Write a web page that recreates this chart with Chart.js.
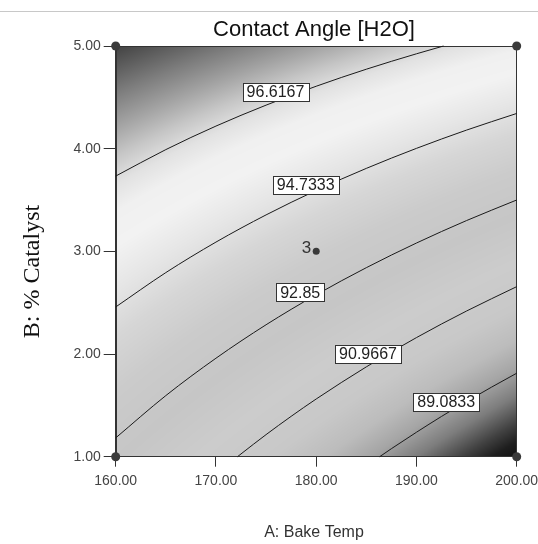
<!DOCTYPE html>
<html>
<head>
<meta charset="utf-8">
<script src="https://cdn.jsdelivr.net/npm/chart.js@4.4.1/dist/chart.umd.min.js"></script>
<style>
  html,body{margin:0;padding:0;background:#fff;}
  #c{display:block;}
</style>
</head>
<body>
<canvas id="c" width="538" height="544"></canvas>
<script>
// ---------------- data ----------------
const chartTitle = 'Contact Angle [H2O]';
const xTitle = 'A: Bake Temp';
const yTitle = 'B: % Catalyst';
const tickX = [160, 170, 180, 190, 200];
const tickY = [1, 2, 3, 4, 5];

// response surface estimated on a coarse grid (rows = % Catalyst, cols = Bake Temp)
const gridX = [160, 170, 180, 190, 200];
const gridY = [1, 2, 3, 4, 5];
const gridZ = [
  [92.579, 91.252, 89.924, 88.597, 87.269],
  [94.057, 92.918, 91.779, 90.640, 89.502],
  [95.534, 94.584, 93.634, 92.684, 91.734],
  [97.012, 96.250, 95.489, 94.728, 93.967],
  [98.489, 97.917, 97.344, 96.772, 96.199]
];

// contour levels and the lines
const levelText = ['89.0833', '90.9667', '92.85', '94.7333', '96.6167'];
const contour89 = [{x:186.33,y:1},{x:187.5,y:1.078},{x:190,y:1.238},{x:192.5,y:1.392},{x:195,y:1.538},{x:197.5,y:1.678},{x:200,y:1.813}];
const contour91 = [{x:172.15,y:1},{x:172.5,y:1.027},{x:175,y:1.215},{x:177.5,y:1.393},{x:180,y:1.562},{x:185,y:1.875},{x:190,y:2.160},{x:195,y:2.419},{x:200,y:2.656}];
const contour93 = [{x:160,y:1.183},{x:165,y:1.595},{x:170,y:1.959},{x:175,y:2.285},{x:180,y:2.577},{x:185,y:2.841},{x:190,y:3.081},{x:195,y:3.300},{x:200,y:3.500}];
const contour95 = [{x:160,y:2.458},{x:165,y:2.793},{x:170,y:3.090},{x:175,y:3.355},{x:180,y:3.593},{x:185,y:3.808},{x:190,y:4.003},{x:195,y:4.181},{x:200,y:4.343}];
const contour97 = [{x:160,y:3.733},{x:165,y:3.991},{x:170,y:4.220},{x:175,y:4.424},{x:180,y:4.608},{x:185,y:4.774},{x:190,y:4.924},{x:192.7,y:5}];
const contours = [contour89, contour91, contour93, contour95, contour97];
// where each contour label sits (data coordinates)
const labelX = [192.97, 185.17, 178.40, 178.95, 175.94];
const labelY = [1.536, 2.000, 2.601, 3.646, 4.555];

// design points
const designX = [160, 160, 200, 200, 180];
const designY = [1, 5, 1, 5, 3];
const designN = [1, 1, 1, 1, 3];

// ---------------- styles ----------------
const grayStops = [[87.2,15],[87.6,30],[88.0,65],[88.6,125],[89.2,165],[89.8,188],[90.5,200],[91.5,204],[92.5,198],[93.5,203],[94.3,214],[95.0,230],[95.6,242],[96.1,240],[96.5,226],[96.9,198],[97.3,165],[97.8,125],[98.5,65]];
const SANS = '"Liberation Sans", Arial, sans-serif';
const SERIF = '"Liberation Serif", "Times New Roman", serif';

function grayFor(z){
  if (z <= grayStops[0][0]) return grayStops[0][1];
  for (let i=1;i<grayStops.length;i++){
    if (z <= grayStops[i][0]){
      const [z0,g0] = grayStops[i-1], [z1,g1] = grayStops[i];
      return g0 + (g1-g0)*(z-z0)/(z1-z0);
    }
  }
  return grayStops[grayStops.length-1][1];
}
function locate(arr, v){
  let i = 0;
  while (i < arr.length-2 && v > arr[i+1]) i++;
  const t = Math.max(0, Math.min(1, (v-arr[i])/(arr[i+1]-arr[i])));
  return [i,t];
}
function surface(xv, yv){
  const [i,tx] = locate(gridX, xv);
  const [j,ty] = locate(gridY, yv);
  const z00 = gridZ[j][i], z01 = gridZ[j][i+1], z10 = gridZ[j+1][i], z11 = gridZ[j+1][i+1];
  return (z00*(1-tx)+z01*tx)*(1-ty) + (z10*(1-tx)+z11*tx)*ty;
}

const heatPlugin = {
  id: 'heat',
  beforeDatasetsDraw(chart){
    const {ctx, chartArea:a, scales:{x, y}} = chart;
    const L = Math.round(a.left), T = Math.round(a.top);
    const W = Math.round(a.right) - L, H = Math.round(a.bottom) - T;
    const img = ctx.createImageData(W, H);
    for (let j=0;j<H;j++){
      const yv = y.getValueForPixel(T+j+0.5);
      for (let i=0;i<W;i++){
        const xv = x.getValueForPixel(L+i+0.5);
        const g = Math.round(grayFor(surface(xv, yv)));
        const k = (j*W+i)*4;
        img.data[k]=g; img.data[k+1]=g; img.data[k+2]=g; img.data[k+3]=255;
      }
    }
    ctx.putImageData(img, L, T);
    ctx.save();
    ctx.strokeStyle = '#333';
    ctx.lineWidth = 1;
    ctx.strokeRect(L+0.5, T+0.5, W-1, H-1);
    ctx.restore();
  },
  afterDatasetsDraw(chart){
    const {ctx, scales:{x, y}} = chart;
    ctx.save();
    ctx.font = '16px ' + SANS;
    ctx.textAlign = 'center';
    ctx.textBaseline = 'middle';
    for (let k=0;k<levelText.length;k++){
      const px = x.getPixelForValue(labelX[k]);
      const py = y.getPixelForValue(labelY[k]);
      const w = ctx.measureText(levelText[k]).width + 8;
      const h = 18;
      ctx.fillStyle = '#fff';
      ctx.fillRect(Math.round(px-w/2)+0.5, Math.round(py-h/2)+0.5, Math.round(w), h);
      ctx.strokeStyle = '#333';
      ctx.lineWidth = 1;
      ctx.strokeRect(Math.round(px-w/2)+0.5, Math.round(py-h/2)+0.5, Math.round(w), h);
      ctx.fillStyle = '#222';
      ctx.fillText(levelText[k], px, py+1);
    }
    // replicate counts
    ctx.font = '17px ' + SANS;
    ctx.textAlign = 'right';
    ctx.fillStyle = '#333';
    for (let k=0;k<designX.length;k++){
      if (designN[k] > 1){
        ctx.fillText(String(designN[k]), x.getPixelForValue(designX[k]) - 5, y.getPixelForValue(designY[k]) - 3);
      }
    }
    ctx.restore();
  },
  afterDraw(chart){
    const {ctx} = chart;
    ctx.save();
    ctx.strokeStyle = '#c8c8c8';
    ctx.lineWidth = 1;
    ctx.beginPath(); ctx.moveTo(0, 11.5); ctx.lineTo(538, 11.5); ctx.stroke();
    ctx.fillStyle = '#111';
    ctx.textAlign = 'center';
    ctx.textBaseline = 'middle';
    ctx.font = '22px ' + SANS;
    ctx.fillText(chartTitle, 314, 30);
    ctx.fillStyle = '#333';
    ctx.font = '16px ' + SANS;
    ctx.fillText(xTitle, 314, 533);
    ctx.fillStyle = '#111';
    ctx.font = '24px ' + SERIF;
    ctx.translate(33, 271.5);
    ctx.rotate(-Math.PI/2);
    ctx.fillText(yTitle, 0, 0);
    ctx.restore();
  }
};

const lineDatasets = contours.map((pts, k) => ({
  type: 'line',
  label: levelText[k],
  data: pts,
  borderColor: '#1a1a1a',
  borderWidth: 1,
  pointRadius: 0,
  fill: false,
  cubicInterpolationMode: 'monotone',
  clip: 2
}));

const pointDataset = {
  type: 'scatter',
  label: 'design',
  data: designX.map((v, i) => ({x: v, y: designY[i]})),
  pointRadius: designN.map(n => n > 1 ? 3.5 : 4.5),
  pointBackgroundColor: '#3a3a3a',
  pointBorderColor: '#3a3a3a',
  pointBorderWidth: 0,
  clip: false
};

new Chart(document.getElementById('c'), {
  type: 'scatter',
  data: { datasets: [...lineDatasets, pointDataset] },
  options: {
    responsive: false,
    animation: false,
    devicePixelRatio: 1,
    layout: { padding: { top: 46, right: 21.3, bottom: 0, left: 0 } },
    plugins: { legend: { display: false }, tooltip: { enabled: false }, title: { display: false } },
    scales: {
      x: {
        type: 'linear', min: 160, max: 200,
        afterBuildTicks(s){ s.ticks = tickX.map(v => ({value: v})); },
        afterFit(s){ s.height = 87.3; s.paddingLeft = 0; s.paddingRight = 0; },
        ticks: { callback: v => Number(v).toFixed(2), color: '#444', font: { family: SANS, size: 14 }, padding: 6, maxRotation: 0, autoSkip: false },
        grid: { drawOnChartArea: false, drawTicks: true, tickLength: 10, color: '#333' },
        border: { display: true, color: '#333' }
      },
      y: {
        type: 'linear', min: 1, max: 5,
        afterBuildTicks(s){ s.ticks = tickY.map(v => ({value: v})); },
        afterFit(s){ s.width = 115.7; s.paddingTop = 0; s.paddingBottom = 0; },
        ticks: { callback: v => Number(v).toFixed(2), color: '#444', font: { family: SANS, size: 14 }, padding: 3, autoSkip: false },
        grid: { drawOnChartArea: false, drawTicks: true, tickLength: 12, color: '#333' },
        border: { display: true, color: '#333' }
      }
    }
  },
  plugins: [heatPlugin]
});
</script>
</body>
</html>
